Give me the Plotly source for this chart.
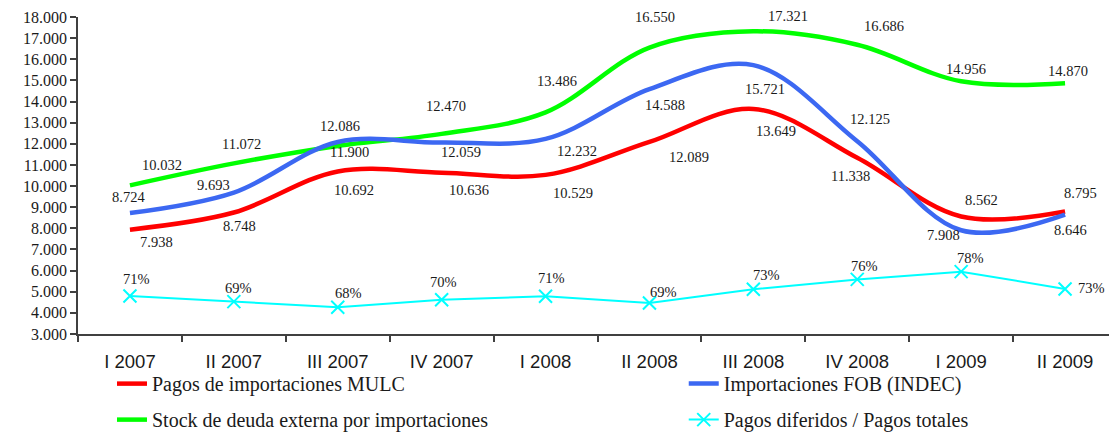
import plotly.graph_objects as go

categories = ["I 2007", "II 2007", "III 2007", "IV 2007", "I 2008", "II 2008",
              "III 2008", "IV 2008", "I 2009", "II 2009"]
pagos_mulc = [7938, 8748, 10692, 10636, 10529, 12089, 13649, 11338, 8562, 8795]
importaciones_fob = [8724, 9693, 12086, 12059, 12232, 14588, 15721, 12125, 7908, 8646]
stock_deuda = [10032, 11072, 11900, 12470, 13486, 16550, 17321, 16686, 14956, 14870]
pagos_diferidos = [0.708, 0.692, 0.676, 0.697, 0.707, 0.688, 0.727, 0.755, 0.777, 0.728]

names = ["Pagos de importaciones MULC", "Importaciones FOB (INDEC)",
         "Stock de deuda externa por importaciones", "Pagos diferidos / Pagos totales"]

# label offsets in pixels (dx right, dy down) relative to each point
off_red = [(27, 12), (6, 13), (16, 19), (27, 17), (27, 18), (40, 15), (23, 22), (-7, 18), (20, -16), (15, -19)]
off_blue = [(-1, -16), (-20, -8), (2, -16), (19, 9), (31, 12), (16, 16), (12, 24), (13, -22), (-18, 5), (5, 15)]
off_green = [(32, -20), (8, -19), (12, 6), (4, -28), (11, -31), (6, -31), (35, -15), (27, -19), (5, -12), (3, -12)]
off_cyan = [(7, -17), (5, -14), (11, -14), (2, -18), (6, -18), (14, -11), (13, -14), (7, -13), (9, -14), (26, -1)]

RED = "#FF0000"
BLUE = "#3C68F2"
GREEN = "#00FF00"
CYAN = "#00FFFF"
SERIF = "Liberation Serif"
SANS = "Liberation Sans"

def fmt(v):
    return f"{v:,}".replace(",", ".")

fig = go.Figure()
fig.add_trace(go.Scatter(x=categories, y=pagos_mulc, name=names[0], mode="lines",
                         line=dict(color=RED, width=4.5, shape="spline", smoothing=1.0),
                         legend="legend", legendgroup="a"))
fig.add_trace(go.Scatter(x=categories, y=stock_deuda, name=names[2], mode="lines",
                         line=dict(color=GREEN, width=4.5, shape="spline", smoothing=1.0),
                         legend="legend", legendgroup="b"))
fig.add_trace(go.Scatter(x=categories, y=importaciones_fob, name=names[1], mode="lines",
                         line=dict(color=BLUE, width=4.5, shape="spline", smoothing=1.0),
                         legend="legend2", legendgroup="c"))
fig.add_trace(go.Scatter(x=categories, y=pagos_diferidos, name=names[3], mode="lines+markers",
                         line=dict(color=CYAN, width=2),
                         marker=dict(symbol="x-thin", size=13, color=CYAN,
                                     line=dict(width=2, color=CYAN)),
                         yaxis="y2", legend="legend2", legendgroup="d"))

annotations = []
for vals, offs, yref, isPct in [(pagos_mulc, off_red, "y", False),
                                (importaciones_fob, off_blue, "y", False),
                                (stock_deuda, off_green, "y", False),
                                (pagos_diferidos, off_cyan, "y2", True)]:
    for c, v, (dx, dy) in zip(categories, vals, offs):
        annotations.append(dict(
            x=c, y=v, xref="x", yref=yref, showarrow=False,
            text=(f"{round(v * 100)}%" if isPct else fmt(v)),
            xshift=dx, yshift=-dy,
            font=dict(family=SERIF, size=14.5, color="#1a1a1a")))

# page body has an 8px default margin, so the figure is sized to fit the window
fig.update_layout(
    width=1109, height=426,
    margin=dict(l=70, r=0, t=9, b=100, autoexpand=False),
    paper_bgcolor="white", plot_bgcolor="white",
    separators=",.",
    showlegend=True,
    annotations=annotations,
    legend=dict(x=0.0327, y=-0.095, xanchor="left", yanchor="top",
                font=dict(family=SERIF, size=20, color="#1a1a1a"),
                tracegroupgap=7, bgcolor="rgba(0,0,0,0)"),
    legend2=dict(x=0.583, y=-0.095, xanchor="left", yanchor="top",
                 font=dict(family=SERIF, size=20, color="#1a1a1a"),
                 tracegroupgap=7, bgcolor="rgba(0,0,0,0)"),
    xaxis=dict(type="category", range=[-0.5, 9.5], showline=True, linecolor="#404040",
               linewidth=1.5, ticks="outside", tickson="boundaries", ticklen=6,
               tickcolor="#404040", tickwidth=1.5, showgrid=False,
               tickfont=dict(family=SANS, size=18.5, color="#1a1a1a"),
               ticklabelstandoff=10),
    yaxis=dict(range=[3000, 18000], dtick=1000, tickformat=",d", showline=True,
               linecolor="#404040", linewidth=1.5, ticks="outside", ticklen=6,
               tickcolor="#404040", tickwidth=1.5, showgrid=False, zeroline=False,
               tickfont=dict(family=SERIF, size=16, color="#1a1a1a")),
    yaxis2=dict(range=[0.6, 1.5], overlaying="y", visible=False, showgrid=False),
)

fig.write_html("out.html")
